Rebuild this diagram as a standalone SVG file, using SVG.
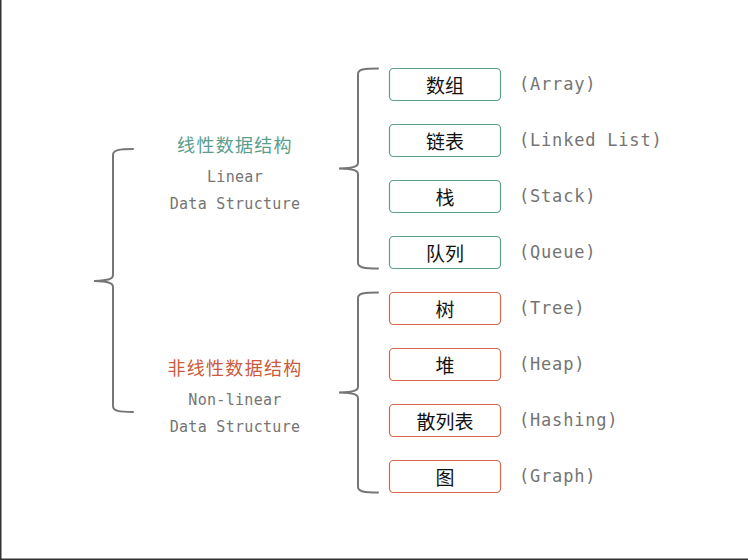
<svg xmlns="http://www.w3.org/2000/svg" width="748" height="560" viewBox="0 0 748 560">
<style>
.brace{fill:none;stroke:#767676;stroke-width:2;stroke-linecap:round}
.lin rect{fill:#fff;stroke:#5a9e8e;stroke-width:1.2}
.non rect{fill:#fff;stroke:#d06a4b;stroke-width:1.2}
.cn{font-family:"Noto Sans CJK SC","Noto Sans",sans-serif;font-size:19px;fill:#111;text-anchor:middle;dominant-baseline:central}
.en{font-family:"DejaVu Sans Mono","Liberation Mono",monospace;font-size:17px;fill:#747474;letter-spacing:0.8px}
.sub{font-family:"DejaVu Sans Mono","Liberation Mono",monospace;font-size:15px;fill:#747474;letter-spacing:0.3px;text-anchor:middle}
.h{font-family:"Noto Sans CJK SC","Noto Sans",sans-serif;font-size:18px;letter-spacing:1.3px;text-anchor:middle}
</style>
<rect width="748" height="560" fill="#fff"/>
<line x1="0.75" y1="0" x2="0.75" y2="560" stroke="#333" stroke-width="1.5"/>
<line x1="0" y1="559.25" x2="748" y2="559.25" stroke="#333" stroke-width="1.5"/>
<g id="connectors">
<path class="brace" d="M133,149 C119,149 113,150 113,155 L113,275 C113,279 109,280.5 94,281 C109,281.5 113,283 113,287 L113,406 C113,411 119,412 133,412"/>
<path class="brace" d="M378,68.5 C364,68.5 358,69.5 358,74 L358,163 C358,166.5 354,168 339,168.5 C354,169 358,170.5 358,174 L358,263 C358,267.5 364,268.5 378,268.5"/>
<path class="brace" d="M378,292.5 C364,292.5 358,293.5 358,298 L358,387 C358,390.5 354,392 339,392.5 C354,393 358,394.5 358,398 L358,487 C358,491.5 364,492.5 378,492.5"/>
</g>
<g id="linear-title">
<text class="h" x="235" y="152" fill="#5a9e8e">线性数据结构</text>
<text class="sub" x="235" y="182">Linear</text>
<text class="sub" x="235" y="209">Data Structure</text>
</g>
<g id="nonlinear-title">
<text class="h" x="235" y="375" fill="#cc5b3c">非线性数据结构</text>
<text class="sub" x="235" y="405">Non-linear</text>
<text class="sub" x="235" y="432">Data Structure</text>
</g>
<g id="array" class="lin"><rect x="389.5" y="68.5" width="111" height="32" rx="4"/><text class="cn" x="445" y="84">数组</text><text class="en" x="519" y="90">(Array)</text></g>
<g id="linkedlist" class="lin"><rect x="389.5" y="124.5" width="111" height="32" rx="4"/><text class="cn" x="445" y="140">链表</text><text class="en" x="519" y="146">(Linked List)</text></g>
<g id="stack" class="lin"><rect x="389.5" y="180.5" width="111" height="32" rx="4"/><text class="cn" x="445" y="196">栈</text><text class="en" x="519" y="202">(Stack)</text></g>
<g id="queue" class="lin"><rect x="389.5" y="236.5" width="111" height="32" rx="4"/><text class="cn" x="445" y="252">队列</text><text class="en" x="519" y="258">(Queue)</text></g>
<g id="tree" class="non"><rect x="389.5" y="292.5" width="111" height="32" rx="4"/><text class="cn" x="445" y="308">树</text><text class="en" x="519" y="314">(Tree)</text></g>
<g id="heap" class="non"><rect x="389.5" y="348.5" width="111" height="32" rx="4"/><text class="cn" x="445" y="364">堆</text><text class="en" x="519" y="370">(Heap)</text></g>
<g id="hashing" class="non"><rect x="389.5" y="404.5" width="111" height="32" rx="4"/><text class="cn" x="445" y="420">散列表</text><text class="en" x="519" y="426">(Hashing)</text></g>
<g id="graph" class="non"><rect x="389.5" y="460.5" width="111" height="32" rx="4"/><text class="cn" x="445" y="476">图</text><text class="en" x="519" y="482">(Graph)</text></g>
</svg>
